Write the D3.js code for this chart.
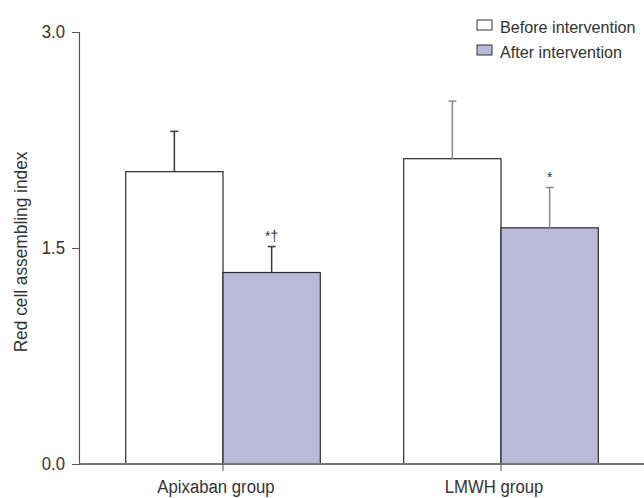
<!DOCTYPE html>
<html>
<head>
<meta charset="utf-8">
<script src="https://cdn.jsdelivr.net/npm/d3@7"></script>
<style>
  html, body { margin: 0; padding: 0; background: #fff; }
  svg text { font-family: "Liberation Sans", Arial, sans-serif; fill: #333; }
</style>
</head>
<body>
<svg id="chart" width="644" height="498"></svg>
<script>
// Red cell assembling index, before vs after intervention
const groups = ["Apixaban group", "LMWH group"];
const seriesNames = ["Before intervention", "After intervention"];
const before = [2.03, 2.12];
const after = [1.33, 1.64];
const beforeSD = [0.28, 0.40];
const afterSD = [0.18, 0.28];
const afterMarks = ["*†", "*"];
const yTicks = [0, 1.5, 3.0];

const svg = d3.select("#chart");
const margin = { left: 79, top: 32, bottom: 464 };
const FONT = 18;      // base text size
const CONDENSE = 0.93; // horizontal squeeze for a condensed look

// squeeze a text element horizontally
function condense(sel, k = CONDENSE) {
  sel.each(function() {
    const w = this.getComputedTextLength();
    d3.select(this).attr("textLength", w * k).attr("lengthAdjust", "spacingAndGlyphs");
  });
}

const y = d3.scaleLinear().domain([0, 3]).range([margin.bottom, margin.top]);
const x = d3.scaleBand().domain(groups).range([84, 640]).paddingInner(0.3).paddingOuter(0.15);
const xs = d3.scaleBand().domain([0, 1]).range([0, x.bandwidth()]);

const fills = ["#ffffff", "#bab9da"];
const errColors = ["#3a3a3a", "#8a8a8a"];

const rows = groups.map((g, i) => ({ g, i, vals: [before[i], after[i]], sds: [beforeSD[i], afterSD[i]] }));

// bars
const gGroups = svg.selectAll("g.grp").data(rows).join("g")
  .attr("class", "grp")
  .attr("transform", d => `translate(${x(d.g)},0)`);

gGroups.selectAll("rect").data(d => d.vals.map((v, k) => ({ v, k }))).join("rect")
  .attr("x", d => xs(d.k))
  .attr("y", d => y(d.v))
  .attr("width", xs.bandwidth())
  .attr("height", d => y(0) - y(d.v))
  .attr("fill", d => fills[d.k])
  .attr("stroke", "#2a2a2a")
  .attr("stroke-width", 1.2);

// error bars (upper only) and significance marks
gGroups.each(function(d) {
  const g = d3.select(this);
  d.vals.forEach((v, k) => {
    const cx = xs(k) + xs.bandwidth() / 2;
    const col = errColors[d.i];
    g.append("line").attr("x1", cx).attr("x2", cx)
      .attr("y1", y(v)).attr("y2", y(v + d.sds[k]))
      .attr("stroke", col).attr("stroke-width", 1.5);
    g.append("line").attr("x1", cx - 4).attr("x2", cx + 4)
      .attr("y1", y(v + d.sds[k])).attr("y2", y(v + d.sds[k]))
      .attr("stroke", col).attr("stroke-width", 1.5);
  });
  const cx = xs(1) + xs.bandwidth() / 2;
  g.append("text")
    .attr("x", cx).attr("y", y(d.vals[1] + d.sds[1]) - 6)
    .attr("text-anchor", "middle")
    .attr("font-size", 14)
    .text(afterMarks[d.i]);
});

// y axis
const yAxis = svg.append("g")
  .attr("transform", `translate(${margin.left},0)`)
  .call(d3.axisLeft(y).tickValues(yTicks).tickFormat(d3.format(".1f")).tickSize(7).tickPadding(7));
yAxis.select(".domain").attr("stroke", "#555").attr("stroke-width", 1.2);
yAxis.selectAll(".tick line").attr("stroke", "#555");
yAxis.selectAll(".tick text").attr("font-size", FONT).attr("fill", "#333").call(condense);

// x axis
const xAxis = svg.append("g")
  .attr("transform", `translate(0,${margin.bottom})`)
  .call(d3.axisBottom(x).tickSize(7).tickPadding(14).tickSizeOuter(0));
xAxis.select(".domain").attr("d", `M${margin.left},0H644`).attr("stroke", "#777").attr("stroke-width", 2);
xAxis.selectAll(".tick line").attr("stroke", "#555");
xAxis.selectAll(".tick text").attr("font-size", FONT).attr("fill", "#333")
  .attr("dy", "0").attr("y", 29).attr("dx", -7).call(condense);

// y axis title
svg.append("text")
  .attr("transform", `translate(27,252) rotate(-90)`)
  .attr("text-anchor", "middle")
  .attr("font-size", FONT)
  .text("Red cell assembling index")
  .call(condense, 0.96);

// legend
const legend = svg.append("g").attr("transform", "translate(477,20)");
seriesNames.forEach((name, k) => {
  const row = legend.append("g").attr("transform", `translate(0,${k * 25})`);
  row.append("rect").attr("width", 15).attr("height", 10)
    .attr("fill", fills[k]).attr("stroke", "#333").attr("stroke-width", 1);
  row.append("text").attr("x", 23).attr("y", 13).attr("font-size", 17).text(name).call(condense, 0.95);
});
</script>
</body>
</html>
